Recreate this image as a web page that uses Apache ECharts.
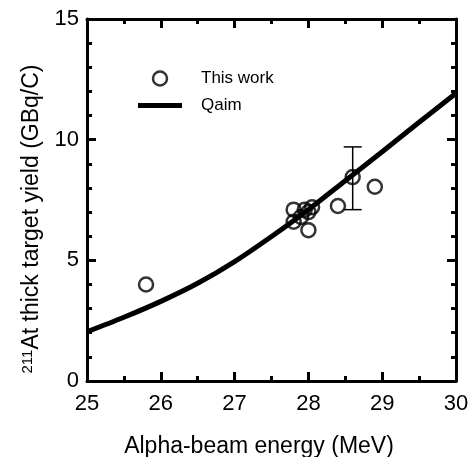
<!DOCTYPE html>
<html>
<head>
<meta charset="utf-8">
<script src="https://cdn.jsdelivr.net/npm/echarts@6/dist/echarts.min.js"></script>
<style>
  html, body { margin: 0; padding: 0; background: #fff; }
  #chart { width: 475px; height: 457px; }
</style>
</head>
<body>
<div id="chart"></div>
<script>
// Measured thick-target yields: [energy (MeV), yield (GBq/C)]
var thisWork = [
  [25.8, 4.0],
  [27.8, 7.1],
  [27.8, 6.6],
  [27.9, 6.8],
  [27.95, 7.1],
  [28.0, 6.25],
  [28.0, 7.0],
  [28.05, 7.2],
  [28.4, 7.25],
  [28.6, 8.45],
  [28.9, 8.05]
];
// Error bar on the 28.6 MeV point: [energy, low, high]
var errorBars = [
  [28.6, 7.1, 9.7]
];
// Qaim excitation-function yield curve
var qaimEnergy = [25, 25.5, 26, 26.5, 27, 27.5, 28, 28.5, 29, 29.5, 30];
var qaimYield  = [2.04, 2.64, 3.3, 4.05, 4.95, 5.99, 7.1, 8.3, 9.5, 10.72, 11.92];

var xTicks = [25, 26, 27, 28, 29, 30];
var yTicks = [0, 5, 10, 15];

var qaim = qaimEnergy.map(function (e, i) { return [e, qaimYield[i]]; });

var FONT = '"Liberation Sans", Arial, sans-serif';
var chart = echarts.init(document.getElementById('chart'), null, { renderer: 'canvas' });

function axisBase(showLabel, isX) {
  return {
    type: 'value',
    min: isX ? xTicks[0] : yTicks[0],
    max: isX ? xTicks[xTicks.length - 1] : yTicks[yTicks.length - 1],
    interval: isX ? 1 : 5,
    axisLine: { show: true, onZero: false, lineStyle: { color: '#000', width: 3 } },
    axisTick: { show: true, inside: true, length: 9, lineStyle: { color: '#000', width: 3 } },
    minorTick: { show: true, splitNumber: isX ? 2 : 5, length: 5, lineStyle: { color: '#000', width: 3 } },
    splitLine: { show: false },
    axisLabel: {
      show: showLabel,
      color: '#000',
      fontFamily: FONT,
      fontSize: 22,
      margin: isX ? 12 : 8
    }
  };
}

var xBottom = Object.assign(axisBase(true, true), {
  position: 'bottom',
  name: 'Alpha-beam energy (MeV)',
  nameLocation: 'middle',
  nameGap: 54,
  nameTextStyle: { color: '#000', fontFamily: FONT, fontSize: 23, padding: [0, 25, 0, 0] }
});
var xTop = Object.assign(axisBase(false, true), { position: 'top' });
var yLeft = Object.assign(axisBase(true, false), {
  position: 'left',
  name: '{sup|211}At thick target yield (GBq/C)',
  nameLocation: 'middle',
  nameGap: 41,
  nameTextStyle: {
    color: '#000', fontFamily: FONT, fontSize: 23,
    padding: [0, 38, 0, 0],
    rich: {
      sup: { fontSize: 15, fontFamily: FONT, color: '#000', verticalAlign: 'top', padding: [0, 0, 8, 0] }
    }
  }
});
var yRight = Object.assign(axisBase(false, false), { position: 'right' });

chart.setOption({
  animation: false,
  backgroundColor: '#fff',
  grid: { left: 87, right: 19, top: 19, bottom: 76, containLabel: false, outerBoundsMode: 'none' },
  xAxis: [xBottom, xTop],
  yAxis: [yLeft, yRight],
  legend: {
    orient: 'vertical',
    left: 133,
    top: 65,
    itemGap: 10,
    itemWidth: 44,
    itemHeight: 14,
    textStyle: { color: '#000', fontFamily: FONT, fontSize: 17, padding: [0, 0, 0, 14] },
    data: [
      { name: 'This work', icon: 'circle', itemStyle: { color: '#fff', borderColor: '#000', borderWidth: 2.5 } },
      { name: 'Qaim', icon: 'path://M0,0H44V5H0Z', itemStyle: { color: '#000', borderWidth: 0 } }
    ]
  },
  series: [
    {
      name: 'Qaim',
      type: 'line',
      xAxisIndex: 0,
      yAxisIndex: 0,
      data: qaim,
      smooth: 0.3,
      showSymbol: false,
      symbol: 'none',
      lineStyle: { color: '#000', width: 5 },
      itemStyle: { color: '#000' },
      z: 2
    },
    {
      name: 'Error',
      type: 'custom',
      xAxisIndex: 0,
      yAxisIndex: 0,
      data: errorBars,
      z: 3,
      renderItem: function (params, api) {
        var top = api.coord([api.value(0), api.value(2)]);
        var bot = api.coord([api.value(0), api.value(1)]);
        var half = 9;
        var style = { stroke: '#000', lineWidth: 1.5 };
        return {
          type: 'group',
          children: [
            { type: 'line', shape: { x1: top[0], y1: top[1], x2: bot[0], y2: bot[1] }, style: style },
            { type: 'line', shape: { x1: top[0] - half, y1: top[1], x2: top[0] + half, y2: top[1] }, style: style },
            { type: 'line', shape: { x1: bot[0] - half, y1: bot[1], x2: bot[0] + half, y2: bot[1] }, style: style }
          ]
        };
      }
    },
    {
      name: 'This work',
      type: 'scatter',
      xAxisIndex: 0,
      yAxisIndex: 0,
      data: thisWork,
      symbol: 'circle',
      symbolSize: 14,
      itemStyle: { color: 'rgba(255,255,255,0)', borderColor: '#000', borderWidth: 2.5 },
      z: 4
    }
  ]
});
</script>
</body>
</html>
